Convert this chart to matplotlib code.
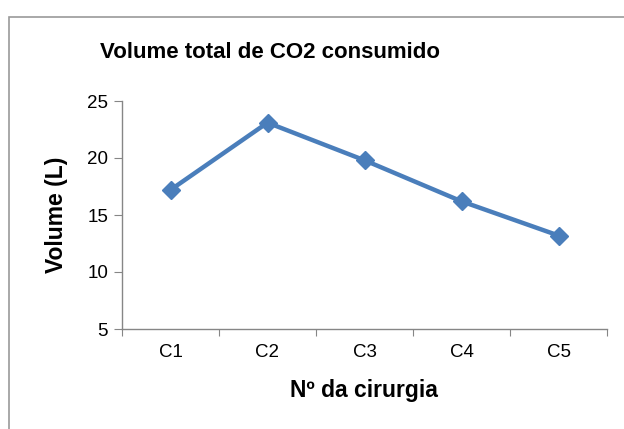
import matplotlib.pyplot as plt
from matplotlib.patches import Rectangle

cirurgias = ["C1", "C2", "C3", "C4", "C5"]
volume = [17.2, 23.1, 19.8, 16.2, 13.2]

plt.rcParams['font.family'] = ['Liberation Sans', 'DejaVu Sans']

fig = plt.figure(figsize=(6.24, 4.29), dpi=100)
ax = fig.add_axes([122/624, 1-329/429, (607-122)/624, (329-101)/429])

# chart border like the excel box
fig.patches.append(Rectangle((9/624, -0.1), 1.1, 1.1 - 17/429, transform=fig.transFigure,
                             fill=False, edgecolor='#9a9a9a', lw=1.2))

x = range(len(cirurgias))
ax.plot(x, volume, color='#4a7ebb', lw=3.2, marker='D', markersize=9,
        markerfacecolor='#4a7ebb', markeredgecolor='#4a7ebb')

ax.set_xlim(-0.5, 4.5)
ax.set_ylim(5, 25)
ax.set_yticks([5, 10, 15, 20, 25])

# category labels in the middle, ticks on the boundaries
ax.set_xticks([i - 0.5 for i in range(len(cirurgias) + 1)])
ax.set_xticklabels([])
ax.set_xticks(list(x), minor=True)
ax.set_xticklabels(cirurgias, minor=True)
ax.tick_params(axis='x', which='minor', length=0, pad=11, labelsize=13.5)
ax.tick_params(axis='x', which='major', length=5, color='#868686', direction='out')
ax.tick_params(axis='y', length=6, color='#868686', labelsize=13.5, pad=4)

for s in ['top', 'right']:
    ax.spines[s].set_visible(False)
for s in ['left', 'bottom']:
    ax.spines[s].set_color('#868686')
    ax.spines[s].set_linewidth(1)

fig.text(364/624, 1-390/429, "Nº da cirurgia", fontsize=16.5, fontweight='bold',
         ha='center', va='center')
fig.text(56/624, 1-215/429, "Volume (L)", fontsize=16.5, fontweight='bold',
         ha='center', va='center', rotation=90)

fig.text(270/624, 1-53/429, "Volume total de CO2 consumido", fontsize=16,
         fontweight='bold', ha='center', va='center')

fig.savefig("out.png", dpi=100)
